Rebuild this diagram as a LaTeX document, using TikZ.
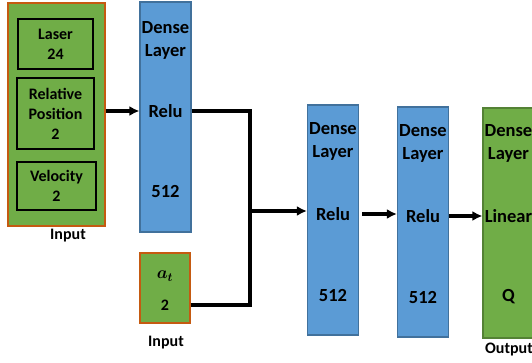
\documentclass[tikz,border=0pt]{standalone}
\usepackage{fontspec}
\setsansfont{Carlito}
\usepackage{amsmath}
\usepackage{bm}
\usetikzlibrary{arrows.meta,calc}

\definecolor{ingreen}{RGB}{112,173,71}
\definecolor{inedge}{RGB}{197,90,17}
\definecolor{outedge}{RGB}{84,130,53}
\definecolor{layblue}{RGB}{91,155,213}
\definecolor{layedge}{RGB}{65,113,156}

\tikzset{
  layer/.style={draw=layedge, fill=layblue, line width=1.2pt, minimum width=51pt, minimum height=230pt, inner sep=0pt},
  feat/.style={draw=black, fill=ingreen, line width=1.2pt, inner sep=0pt},
  txt/.style={font=\sffamily\bfseries\fontsize{18.5}{23}\selectfont, align=center, inner sep=0pt},
  small/.style={font=\sffamily\bfseries\fontsize{16}{20}\selectfont, align=center, inner sep=0pt},
  conn/.style={line width=3.3pt}
}

\begin{document}
\begin{tikzpicture}[x=1pt, y=-1pt, >={Latex[length=10pt,width=10pt]}]
\clip (0,0) rectangle (532,363);

% first input
\node[draw=inedge, fill=ingreen, line width=1.2pt, minimum width=97pt, minimum height=223pt, inner sep=0pt] (inp) at (56.5,114.5) {};
\node[feat, small, minimum width=75pt, minimum height=50pt] (laser) at (55.5,44) {Laser\\24};
\node[feat, small, minimum width=77pt, minimum height=71pt] (relpos) at (55.5,113.5) {Relative\\Position\\2};
\node[feat, small, minimum width=79pt, minimum height=48pt] (vel) at (56.5,186) {Velocity\\2};
\node[small] (inpl) at (68,236) {Input};

% second input
\node[draw=inedge, fill=ingreen, line width=1.2pt, minimum width=50pt, minimum height=70pt, inner sep=0pt] (at) at (165,288) {};
\node[txt] (ata) at (165,276) {$\bm{a_t}$};
\node[small] (atn) at (165,305) {2};
\node[small] (atl) at (166,343) {Input};

% dense layers
\node[layer] (d1) at (165.5,117) {};
\node[txt] (d1t) at (165.5,40) {Dense\\Layer};
\node[txt] (d1r) at (165.5,111) {Relu};
\node[txt] (d1n) at (165.5,191) {512};

\node[layer] (d2) at (333,220) {};
\node[txt] (d2t) at (333,141) {Dense\\Layer};
\node[txt] (d2r) at (333,214) {Relu};
\node[txt] (d2n) at (333,295) {512};

\node[layer] (d3) at (423,222) {};
\node[txt] (d3t) at (423,143.5) {Dense\\Layer};
\node[txt] (d3r) at (423,216) {Relu};
\node[txt] (d3n) at (423,297) {512};

% output
\node[layer, draw=outedge, fill=ingreen] (out) at (508.5,223) {};
\node[txt] (outt) at (508.5,143.5) {Dense\\Layer};
\node[txt] (outr) at (508.5,216) {Linear};
\node[txt] (outn) at (508.5,297) {Q};
\node[small] (outl) at (509,350) {Output};

% connectors
\coordinate (j) at (250,211);
\draw[conn,->] (inp.east |- d1r) -- (d1.west |- d1r);
\draw[conn] (d1.east |- d1r) -| (j);
\draw[conn] (at.east |- atn) -| (j);
\draw[conn,->] (j) -- (d2.west |- j);
\draw[conn,->] ($(d2.east |- d2r)+(3,0)$) -- (d3.west |- d2r);
\draw[conn,->] (d3.east |- d3r) -- (out.west |- d3r);

\end{tikzpicture}
\end{document}
